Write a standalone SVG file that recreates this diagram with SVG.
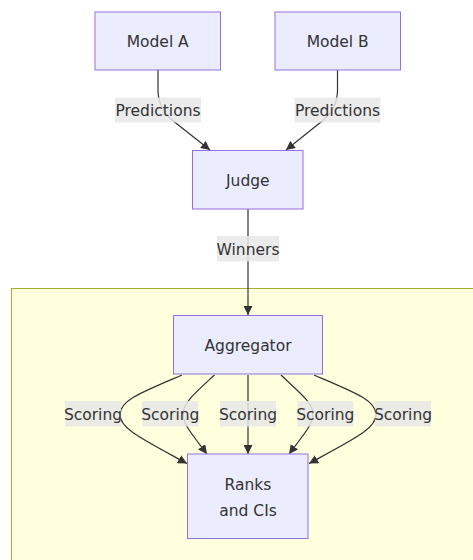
<svg xmlns="http://www.w3.org/2000/svg" width="473" height="560" viewBox="0 0 473 560">
<style>
.node rect{fill:#ECECFF;stroke:#9370DB;stroke-width:1px}
text{font-family:"DejaVu Sans","Verdana",sans-serif;font-size:15.5px;fill:#333333;text-anchor:middle;dominant-baseline:central}
.edge path{fill:none;stroke:#333333;stroke-width:1.2px}
.lbl rect{fill:#e8e8e8;fill-opacity:0.85;stroke:none}
.cluster{fill:#ffffde;stroke:#aaaa33;stroke-width:1px}
</style>
<defs>
<marker id="arr" viewBox="0 0 10 10" refX="10" refY="5" markerUnits="userSpaceOnUse" markerWidth="9" markerHeight="9" orient="auto">
<path d="M0,0 L10,5 L0,10 z" fill="#333333"/>
</marker>
</defs>
<rect width="473" height="560" fill="#ffffff"/>
<g id="cluster"><rect class="cluster" x="11.5" y="288.5" width="480" height="300"/></g>
<g id="connectors" class="edge">
<path d="M158,70 L158,90 Q158,108 172,120 L210,150" marker-end="url(#arr)"/>
<path d="M337.5,70 L337.5,90 Q337.5,108 323.5,120 L286,150" marker-end="url(#arr)"/>
<path d="M248,209 L248,315" marker-end="url(#arr)"/>
<path d="M182,375 C140,393 121,400 120,414 C119,428 140,438 187,463.5" marker-end="url(#arr)"/>
<path d="M214.5,375 C195,393 183,403 183,414 C183,425 195,438 207,454" marker-end="url(#arr)"/>
<path d="M248,375 L248,454" marker-end="url(#arr)"/>
<path d="M281,375 C300,393 313,403 313,414 C313,425 301,438 289,454" marker-end="url(#arr)"/>
<path d="M314,375 C356,393 375,400 376,414 C377,428 356,438 309,463.5" marker-end="url(#arr)"/>
</g>
<g id="edge-labels" class="lbl">
<rect x="115" y="97.5" width="86" height="25"/><text x="158" y="111">Predictions</text>
<rect x="294.5" y="97.5" width="86" height="25"/><text x="337.5" y="111">Predictions</text>
<rect x="217" y="236" width="62" height="25.5"/><text x="248" y="250">Winners</text>
<rect x="65" y="401" width="56" height="25.5"/><text x="93" y="415">Scoring</text>
<rect x="142.3" y="401" width="56" height="25.5"/><text x="170.3" y="415">Scoring</text>
<rect x="220" y="401" width="56" height="25.5"/><text x="248" y="415">Scoring</text>
<rect x="297.3" y="401" width="56" height="25.5"/><text x="325.3" y="415">Scoring</text>
<rect x="375" y="401" width="56" height="25.5"/><text x="403" y="415">Scoring</text>
</g>
<g id="modelA" class="node"><rect x="95" y="12" width="125.5" height="58"/><text x="157.7" y="42">Model A</text></g>
<g id="modelB" class="node"><rect x="275" y="12" width="125.5" height="58"/><text x="337.7" y="42">Model B</text></g>
<g id="judge" class="node"><rect x="192.5" y="150.5" width="110.5" height="58.5"/><text x="247.8" y="181">Judge</text></g>
<g id="aggregator" class="node"><rect x="173.5" y="315.5" width="149" height="58.5"/><text x="248" y="346">Aggregator</text></g>
<g id="ranks" class="node"><rect x="187.5" y="454" width="120.5" height="84.5"/><text x="248" y="485">Ranks</text><text x="248" y="511">and CIs</text></g>
</svg>
